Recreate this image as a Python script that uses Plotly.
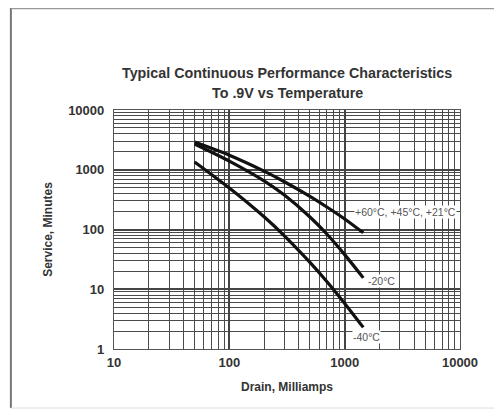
import plotly.graph_objects as go

# Data (Service in minutes vs drain in mA)
drain = [50, 100, 200, 300, 500, 700, 1000, 1450]
service_warm = [2900, 1750, 948, 630, 358, 238, 150, 88]    # +60°C, +45°C, +21°C
service_m20 = [2700, 1396, 652, 377, 162, 84, 38, 15.5]     # -20°C
service_m40 = [1350, 494, 163, 78.5, 28.2, 13.5, 5.8, 2.3]  # -40°C

x_ticks = [10, 100, 1000, 10000]
y_ticks = [1, 10, 100, 1000, 10000]
labels = ["+60°C, +45°C, +21°C", "-20°C", "-40°C"]
title_lines = ["Typical Continuous Performance Characteristics", "To .9V vs Temperature"]

FONT = "Liberation Sans, Arial, sans-serif"
line_style = dict(color="#111111", width=3.2, shape="spline", smoothing=0.8)

fig = go.Figure()
for ys, name in [(service_warm, labels[0]), (service_m20, labels[1]), (service_m40, labels[2])]:
    fig.add_trace(go.Scatter(x=drain, y=ys, mode="lines", line=line_style,
                             name=name, showlegend=False))

label_font = dict(family=FONT, size=10.5, color="#555555")
label_pos = [(3.524, 2.293), (3.316, 1.138), (3.186, 0.2)]
for txt, (lx, ly) in zip(labels, label_pos):
    fig.add_annotation(x=lx, y=ly, xref="x", yref="y", text=txt, showarrow=False,
                       font=label_font, bgcolor="white", borderpad=0)

# two-line title
for txt, ty in zip(title_lines, [1.153, 1.071]):
    fig.add_annotation(x=0.5, y=ty, xref="paper", yref="paper", text=f"<b>{txt}</b>",
                       showarrow=False, xanchor="center", yanchor="middle",
                       font=dict(family=FONT, size=14.3, color="#333333"))

tick_font = dict(family=FONT, size=13, color="#333333")
title_font = dict(family=FONT, size=12, color="#333333")
axis_common = dict(
    type="log", showgrid=True, gridcolor="#444444", gridwidth=1.6,
    showline=True, linecolor="#555555", linewidth=1.2, mirror=True,
    ticks="", zeroline=False,
    minor=dict(dtick="D1", showgrid=True, gridcolor="#4a4a4a", gridwidth=1.2, ticks=""),
)

fig.update_xaxes(range=[1, 4], tickvals=x_ticks, ticktext=[f"<b>{v}</b>" for v in x_ticks],
                 tickfont=tick_font, ticklabelstandoff=1,
                 title=dict(text="<b>Drain, Milliamps</b>", font=title_font, standoff=13),
                 **axis_common)
fig.update_yaxes(range=[0, 4], tickvals=y_ticks, ticktext=[f"<b>{v}</b>" for v in y_ticks],
                 tickfont=tick_font, ticklabelstandoff=6,
                 title=dict(text="<b>Service, Minutes</b>", font=title_font, standoff=12),
                 **axis_common)

# outer frame of the picture
fig.add_shape(type="line", xref="paper", yref="paper", x0=-0.298, x1=-0.298, y0=-0.247, y1=1.427,
              line=dict(color="#777777", width=2))
fig.add_shape(type="line", xref="paper", yref="paper", x0=-0.298, x1=1.118, y0=1.425, y1=1.425,
              line=dict(color="#999999", width=1.5))
fig.add_shape(type="line", xref="paper", yref="paper", x0=-0.298, x1=1.118, y0=-0.247, y1=-0.247,
              line=dict(color="#dddddd", width=1))

# the page body has an 8px margin, so the figure is sized to fit the 502x417 window
fig.update_layout(
    width=486, height=401,
    margin=dict(l=106, r=34, t=102, b=60),
    paper_bgcolor="white", plot_bgcolor="white",
)

fig.write_html("out.html")
